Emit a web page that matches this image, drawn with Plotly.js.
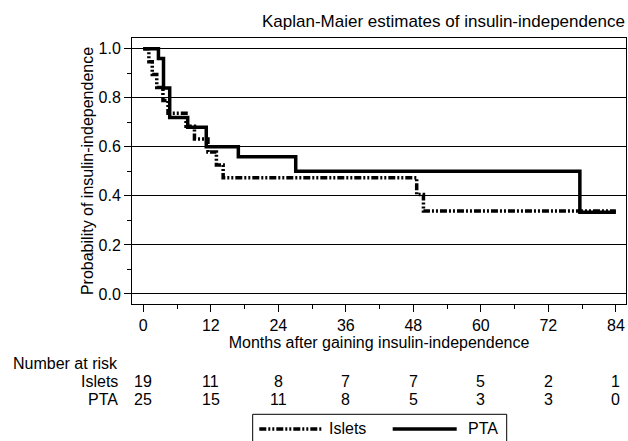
<!DOCTYPE html>
<html>
<head>
<meta charset="utf-8">
<script src="https://cdn.plot.ly/plotly-3.0.1.min.js"></script>
<style>html,body{margin:0;padding:0;background:#fff;}#chart{width:628px;height:441px;}</style>
</head>
<body>
<div id="chart"></div>
<script>
// Kaplan-Meier step data
const isletsMonths = [0, 1.0, 1.6, 2.4, 3.5, 4.4, 7.6, 9.1, 11.5, 13.0, 14.2, 48.6, 49.8, 84];
const isletsSurv   = [1.0, 0.947, 0.895, 0.842, 0.789, 0.737, 0.684, 0.632, 0.579, 0.526, 0.474, 0.406, 0.338, 0.338];
const ptaMonths = [0, 2.7, 3.6, 4.7, 7.9, 11.2, 16.9, 27.1, 77.6, 84];
const ptaSurv   = [1.0, 0.96, 0.84, 0.72, 0.68, 0.60, 0.56, 0.50, 0.333, 0.333];

// Number-at-risk table
const riskMonths = [0, 12, 24, 36, 48, 60, 72, 84];
const isletsAtRisk = [19, 11, 8, 7, 7, 5, 2, 1];
const ptaAtRisk = [25, 15, 11, 8, 5, 3, 3, 0];

const seriesNames = ["Islets", "PTA"];

const FONT = "Liberation Sans, Arial, sans-serif";
const FS = 16;
const ISLET_DASH = "7px,2px,2px,2px,2px,2px";
const LW = 3.5;
const traces = [
  {x: isletsMonths, y: isletsSurv, name: seriesNames[0], mode: "lines",
   line: {shape: "hv", color: "#000", width: LW, dash: ISLET_DASH}},
  {x: ptaMonths, y: ptaSurv, name: seriesNames[1], mode: "lines",
   line: {shape: "hv", color: "#000", width: LW}}
];

const annotations = [];
const rowY = {islets: -0.2914, pta: -0.359};
const txtFont = {family: FONT, size: FS, color: "#000"};
annotations.push({xref: "paper", yref: "paper", x: -0.2455, y: -0.2237, xanchor: "left", yanchor: "middle",
  text: "Number at risk", showarrow: false, font: txtFont});
annotations.push({xref: "paper", yref: "paper", x: -0.024, y: rowY.islets, xanchor: "right", yanchor: "middle",
  text: seriesNames[0], showarrow: false, font: txtFont});
annotations.push({xref: "paper", yref: "paper", x: -0.024, y: rowY.pta, xanchor: "right", yanchor: "middle",
  text: seriesNames[1], showarrow: false, font: txtFont});
riskMonths.forEach((m, i) => {
  annotations.push({xref: "x", yref: "paper", x: m, y: rowY.islets, xanchor: "center", yanchor: "middle",
    text: String(isletsAtRisk[i]), showarrow: false, font: txtFont});
  annotations.push({xref: "x", yref: "paper", x: m, y: rowY.pta, xanchor: "center", yanchor: "middle",
    text: String(ptaAtRisk[i]), showarrow: false, font: txtFont});
});

// Legend box (drawn as shapes so its samples match the reference's long line keys)
const legY = -0.4699;
annotations.push({xref: "paper", yref: "paper", x: 0.3953, y: -0.468, xanchor: "left", yanchor: "middle",
  text: seriesNames[0], showarrow: false, font: txtFont});
annotations.push({xref: "paper", yref: "paper", x: 0.6767, y: -0.468, xanchor: "left", yanchor: "middle",
  text: seriesNames[1], showarrow: false, font: txtFont});
const shapes = [
  {type: "rect", xref: "paper", yref: "paper", x0: 0.2443, x1: 0.7585, y0: -0.56, y1: -0.4147,
   line: {color: "#000", width: 1}, fillcolor: "rgba(0,0,0,0)"},
  {type: "line", xref: "paper", yref: "paper", x0: 0.2577, x1: 0.3840, y0: legY, y1: legY,
   line: {color: "#000", width: LW, dash: ISLET_DASH}},
  {type: "line", xref: "paper", yref: "paper", x0: 0.5277, x1: 0.6573, y0: legY, y1: legY,
   line: {color: "#000", width: LW}}
];

const layout = {
  width: 628, height: 441,
  margin: {l: 132, r: 2, t: 38, b: 137, pad: 0, autoexpand: false},
  paper_bgcolor: "#fff", plot_bgcolor: "#fff",
  font: {family: FONT, size: FS, color: "#000"},
  title: {text: "Kaplan-Maier estimates of insulin-independence", x: 0.995, xanchor: "right",
          xref: "container", y: 0.953, yref: "container", yanchor: "middle",
          font: {family: FONT, size: 17, color: "#000"}},
  xaxis: {range: [-2, 85.8], tickmode: "linear", tick0: 0, dtick: 12, ticks: "outside", ticklen: 7,
          tickwidth: 1, tickcolor: "#000", automargin: false,
          showgrid: false, zeroline: false, showline: true, mirror: true, linecolor: "#000", linewidth: 1,
          tickfont: txtFont,
          minor: {dtick: 6, tick0: 0, ticks: "outside", ticklen: 4, tickcolor: "#000", showgrid: false},
          title: {text: "Months after gaining insulin-independence", standoff: 3, font: txtFont}},
  yaxis: {range: [-0.041, 1.044], tickmode: "linear", tick0: 0, dtick: 0.2, tickformat: ".1f",
          ticks: "outside", ticklen: 7, automargin: false,
          tickwidth: 1, tickcolor: "#000", showgrid: true, gridcolor: "#000", gridwidth: 1,
          zeroline: false, showline: true, mirror: true, linecolor: "#000", linewidth: 1,
          tickfont: txtFont,
          minor: {dtick: 0.1, tick0: 0, ticks: "outside", ticklen: 4, tickcolor: "#000", showgrid: false},
          title: {text: "Probability of insulin-independence", standoff: 0, font: txtFont}},
  showlegend: false,
  shapes: shapes,
  annotations: annotations
};

Plotly.newPlot("chart", traces, layout, {displayModeBar: false, staticPlot: true});
</script>
</body>
</html>
